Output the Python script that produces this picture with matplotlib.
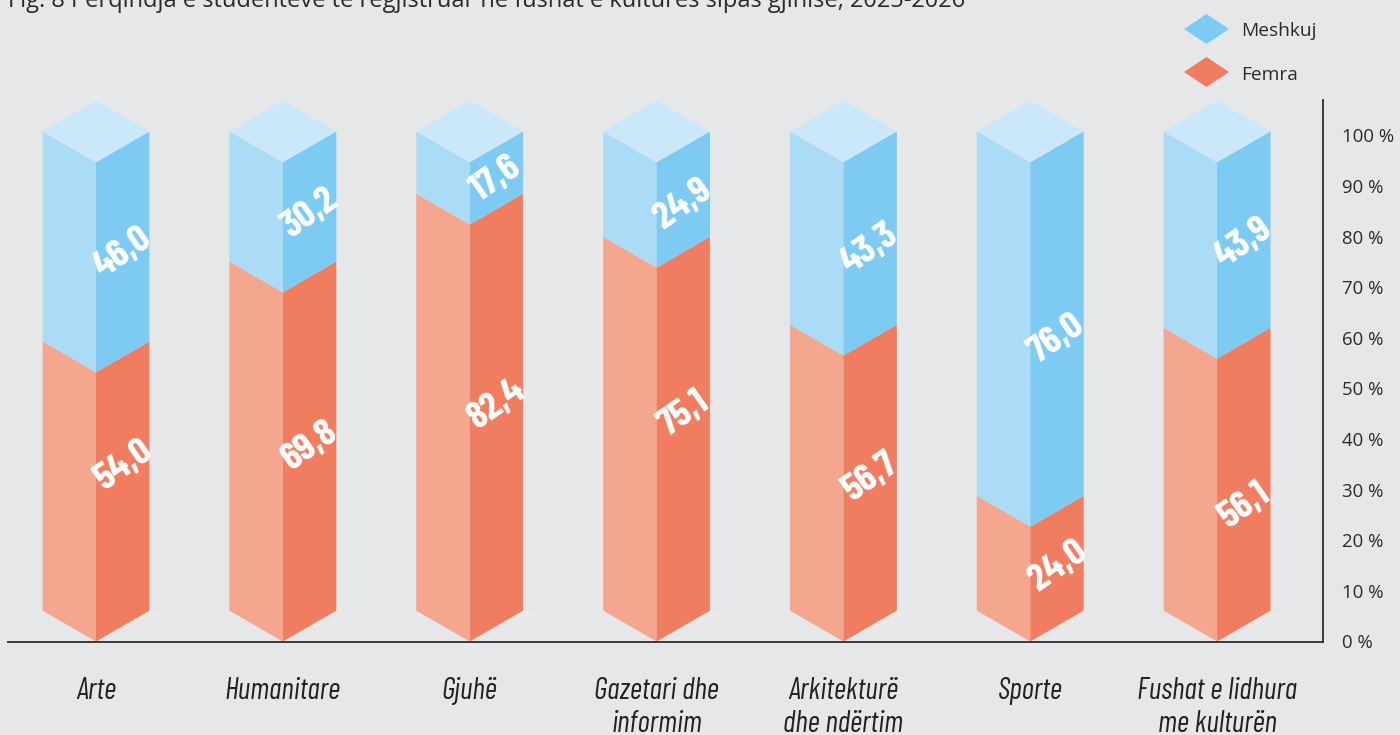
# -*- coding: utf-8 -*-
import matplotlib
matplotlib.use('Agg')
import matplotlib.pyplot as plt
from matplotlib.patches import Polygon

categories = ['Arte', 'Humanitare', 'Gjuhë', 'Gazetari dhe\ninformim',
              'Arkitekturë\ndhe ndërtim', 'Sporte', 'Fushat e lidhura\nme kulturën']
meshkuj = [46.0, 30.2, 17.6, 24.9, 43.3, 76.0, 43.9]
femra = [54.0, 69.8, 82.4, 75.1, 56.7, 24.0, 56.1]
# colour change on the front edge as drawn, read against the right axis
femra_drawn = [53.2, 69.0, 82.4, 73.9, 56.5, 22.7, 55.9]
ticks = [0, 10, 20, 30, 40, 50, 60, 70, 80, 90, 100]

# layout, in axis units
column_top = 94.7
depth = 6.1
half_w = 0.286
label_y_m = [76.7, 84.6, 91.4, 86.4, 77.5, 59.9, 78.7]
label_y_f = [35.0, 38.7, 47.0, 45.0, 32.6, 15.0, 26.9]

W, H = 1400, 735
BG = '#E6E7E8'
DARK = '#2B2A29'
STEP = 186.85

plt.rcParams['font.family'] = ['Open Sans', 'DejaVu Sans']
narrow = ['Barlow Condensed', 'Roboto', 'DejaVu Sans']

fig = plt.figure(figsize=(W / 100, H / 100), dpi=100, facecolor=BG)
ax = fig.add_axes([8 / W, 1 - 642 / H, (1323 - 8) / W, (642 - 100) / H], facecolor='none')
ax.set_xlim((8 - 96) / STEP, (1323 - 96) / STEP)
ax.set_ylim(-0.1, 107.0)

for i in range(len(categories)):
    s = femra_drawn[i]
    # faint floor shadow
    ax.fill([i, i + half_w, i + half_w + 0.1], [0, depth, depth], color='#E9E9E6', lw=0, zorder=1)
    # left and right faces, lower part
    ax.fill([i - half_w, i, i, i - half_w], [depth, 0, s, s + depth], color='#F4A68E', lw=0, zorder=2)
    ax.fill([i, i + half_w, i + half_w, i], [0, depth, s + depth, s], color='#F17D60', lw=0, zorder=2)
    # upper part
    ax.fill([i - half_w, i, i, i - half_w], [s + depth, s, column_top, column_top + depth],
            color='#ABDCF7', lw=0, zorder=2)
    ax.fill([i, i + half_w, i + half_w, i], [s, s + depth, column_top + depth, column_top],
            color='#7DCBF2', lw=0, zorder=2)
    # top cap
    ax.fill([i - half_w, i, i + half_w, i],
            [column_top + depth, column_top, column_top + depth, column_top + 2 * depth],
            color='#CBE8FA', lw=0, zorder=2)
    ax.text(i + 0.142, label_y_m[i], f'{meshkuj[i]:.1f}'.replace('.', ','), color='white',
            family=narrow, weight='bold', fontsize=28, rotation=35,
            ha='center', va='center', rotation_mode='anchor', zorder=3)
    ax.text(i + 0.148, label_y_f[i], f'{femra[i]:.1f}'.replace('.', ','), color='white',
            family=narrow, weight='bold', fontsize=28, rotation=35,
            ha='center', va='center', rotation_mode='anchor', zorder=3)

for side in ['top', 'left']:
    ax.spines[side].set_visible(False)
for side in ['bottom', 'right']:
    ax.spines[side].set_color('#3A3A3A')
    ax.spines[side].set_linewidth(1.4)

ax.yaxis.tick_right()
ax.set_yticks(ticks)
ax.set_yticklabels([f'{t} %' for t in ticks], color=DARK, fontsize=13.4)
ax.tick_params(axis='y', length=0, pad=14)
ax.set_xticks(range(len(categories)))
ax.set_xticklabels(categories, family=narrow, style='italic', fontsize=21.6, color='#222222',
                   linespacing=1.24, va='top')
ax.tick_params(axis='x', length=0, pad=25)

fig.text(8 / W, 1 - 7 / H,
         'Fig. 8 Përqindja e studentëve të regjistruar në fushat e kulturës sipas gjinisë, 2025-2026',
         fontsize=17, color=DARK, ha='left', va='baseline')

# legend
for name, colour, cy in [('Meshkuj', '#7DCBF2', 29), ('Femra', '#F17D60', 72)]:
    pts = [(1184, cy), (1206.5, cy - 15), (1229, cy), (1206.5, cy + 15)]
    fig.patches.append(Polygon([(x / W, 1 - y / H) for x, y in pts], closed=True, color=colour,
                               lw=0, transform=fig.transFigure))
    fig.text(1241 / W, 1 - (cy + 2.5) / H, name, fontsize=13.8, color=DARK, ha='left', va='center')

fig.savefig('out.png', dpi=100, facecolor=BG)
